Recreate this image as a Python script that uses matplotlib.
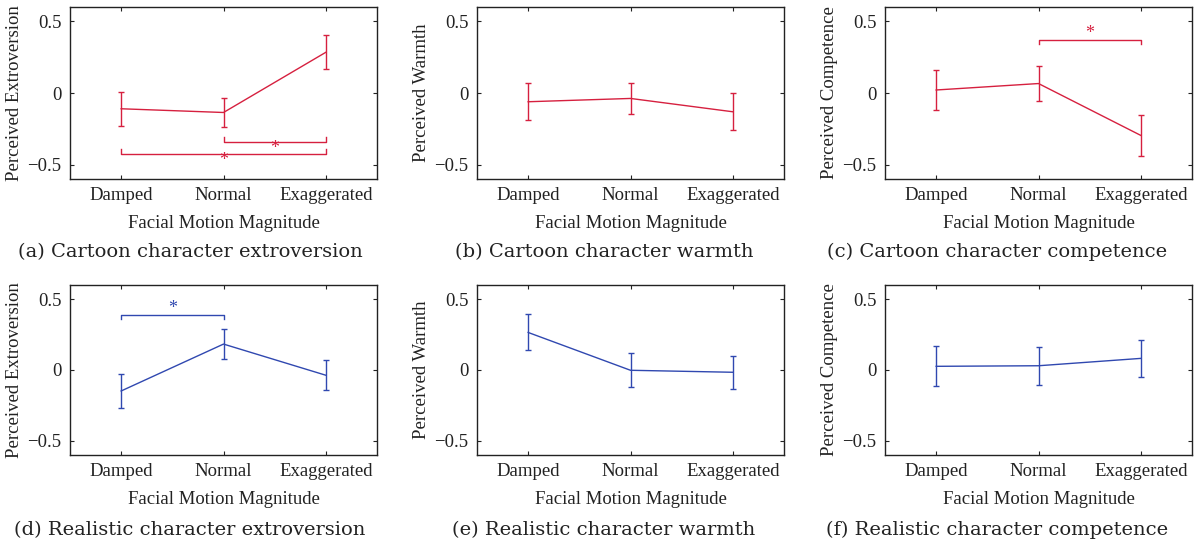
import numpy as np
import matplotlib.pyplot as plt

levels = ['Damped', 'Normal', 'Exaggerated']
xlabel = 'Facial Motion Magnitude'

# cartoon character (red)
cart_extro = [-0.11, -0.136, 0.284]
cart_extro_err = [0.118, 0.10, 0.118]
cart_warm = [-0.061, -0.038, -0.131]
cart_warm_err = [0.128, 0.11, 0.128]
cart_comp = [0.021, 0.066, -0.296]
cart_comp_err = [0.142, 0.123, 0.141]

# realistic character (blue)
real_extro = [-0.148, 0.183, -0.037]
real_extro_err = [0.117, 0.108, 0.105]
real_warm = [0.265, -0.002, -0.016]
real_warm_err = [0.127, 0.12, 0.117]
real_comp = [0.026, 0.03, 0.082]
real_comp_err = [0.14, 0.133, 0.13]

# significance brackets: (from, to, level, cap direction)
sig_a = [(2, 3, -0.34, 1), (1, 3, -0.423, 1)]
sig_c = [(2, 3, 0.373, -1)]
sig_d = [(1, 2, 0.389, -1)]

red = '#d6203f'
blue = '#3048b0'

panels = [
    (cart_extro, cart_extro_err, 'Perceived Extroversion', '(a) Cartoon character extroversion', red, sig_a),
    (cart_warm, cart_warm_err, 'Perceived Warmth', '(b) Cartoon character warmth', red, []),
    (cart_comp, cart_comp_err, 'Perceived Competence', '(c) Cartoon character competence', red, sig_c),
    (real_extro, real_extro_err, 'Perceived Extroversion', '(d) Realistic character extroversion', blue, sig_d),
    (real_warm, real_warm_err, 'Perceived Warmth', '(e) Realistic character warmth', blue, []),
    (real_comp, real_comp_err, 'Perceived Competence', '(f) Realistic character competence', blue, []),
]

W, H = 1196, 544
fig = plt.figure(figsize=(W / 100, H / 100), dpi=100)
plt.rcParams['font.family'] = ['Liberation Serif', 'DejaVu Serif']

lefts = [70, 477, 885]
cap_x = [190, 604, 997]
rows = [(7, 179), (285, 455)]
cap_y = [252, 530]
aw = 307
x = np.arange(1, 4)

for i, (m, e, ylab, cap, col, sigs) in enumerate(panels):
    r, c = divmod(i, 3)
    top, bot = rows[r]
    ax = fig.add_axes([lefts[c] / W, 1 - bot / H, aw / W, (bot - top) / H])
    ax.errorbar(x, m, yerr=e, color=col, lw=1.0, capsize=2.5, elinewidth=1.0, capthick=1.0)
    ax.set_xlim(0.5, 3.5)
    ax.set_ylim(-0.6, 0.6)
    ax.set_xticks(x)
    ax.set_xticklabels(levels)
    ax.set_yticks([-0.5, 0, 0.5])
    ax.set_yticklabels(['\u22120.5', '0', '0.5'])
    ax.tick_params(direction='in', top=True, right=True, length=3, width=0.8,
                   labelsize=13.5, pad=6, colors='#222222')
    ax.set_ylabel(ylab, fontsize=13.5, labelpad=3, color='#222222')
    ax.set_xlabel(xlabel, fontsize=13.5, labelpad=8, color='#222222')
    for s in ax.spines.values():
        s.set_linewidth(1.0)
        s.set_color('#222222')
    for a, b, lvl, d in sigs:
        ax.plot([a, a, b, b], [lvl + 0.03 * d, lvl, lvl, lvl + 0.03 * d], color=col, lw=1.0)
        ax.text((a + b) / 2, lvl - 0.045 * d, '*', color=col, fontsize=13,
                ha='center', va='center')
    fig.text(cap_x[c] / W, 1 - cap_y[r] / H, cap, ha='center', va='center',
             fontsize=14, family=['DejaVu Serif'], color='#222222')

fig.savefig('out.png', dpi=100)
